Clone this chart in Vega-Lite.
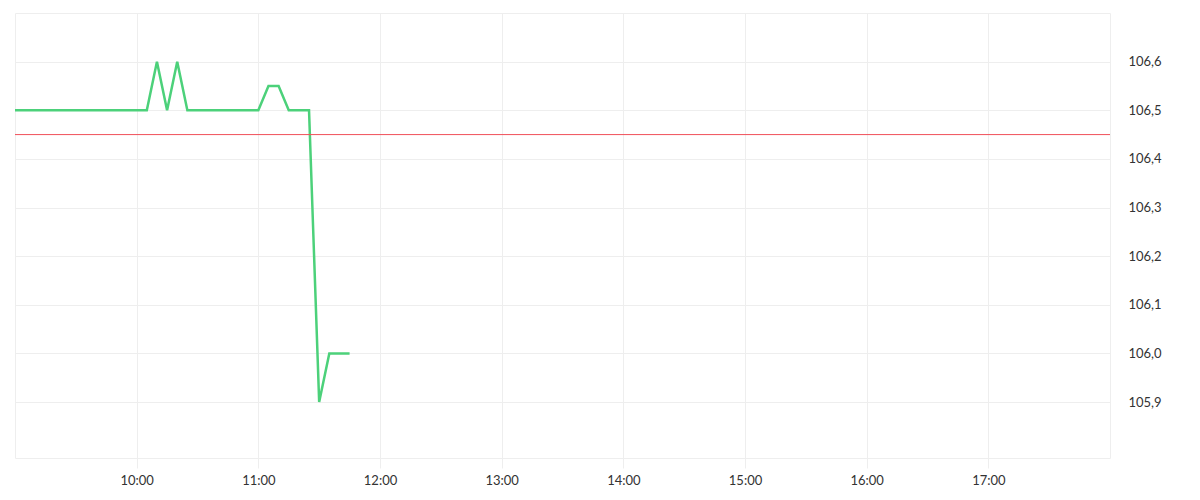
{
  "$schema": "https://vega.github.io/schema/vega-lite/v6.json",
  "autosize": "none",
  "width": 1095,
  "height": 445,
  "padding": {"left": 15, "top": 13, "right": 90, "bottom": 42},
  "background": "white",
  "datasets": {
    "prices": [
      {"time": "2024-01-02T09:00:00Z", "price": 106.5},
      {"time": "2024-01-02T09:05:00Z", "price": 106.5},
      {"time": "2024-01-02T09:10:00Z", "price": 106.5},
      {"time": "2024-01-02T09:15:00Z", "price": 106.5},
      {"time": "2024-01-02T09:20:00Z", "price": 106.5},
      {"time": "2024-01-02T09:25:00Z", "price": 106.5},
      {"time": "2024-01-02T09:30:00Z", "price": 106.5},
      {"time": "2024-01-02T09:35:00Z", "price": 106.5},
      {"time": "2024-01-02T09:40:00Z", "price": 106.5},
      {"time": "2024-01-02T09:45:00Z", "price": 106.5},
      {"time": "2024-01-02T09:50:00Z", "price": 106.5},
      {"time": "2024-01-02T09:55:00Z", "price": 106.5},
      {"time": "2024-01-02T10:00:00Z", "price": 106.5},
      {"time": "2024-01-02T10:05:00Z", "price": 106.5},
      {"time": "2024-01-02T10:10:00Z", "price": 106.6},
      {"time": "2024-01-02T10:15:00Z", "price": 106.5},
      {"time": "2024-01-02T10:20:00Z", "price": 106.6},
      {"time": "2024-01-02T10:25:00Z", "price": 106.5},
      {"time": "2024-01-02T10:30:00Z", "price": 106.5},
      {"time": "2024-01-02T10:35:00Z", "price": 106.5},
      {"time": "2024-01-02T10:40:00Z", "price": 106.5},
      {"time": "2024-01-02T10:45:00Z", "price": 106.5},
      {"time": "2024-01-02T10:50:00Z", "price": 106.5},
      {"time": "2024-01-02T10:55:00Z", "price": 106.5},
      {"time": "2024-01-02T11:00:00Z", "price": 106.5},
      {"time": "2024-01-02T11:05:00Z", "price": 106.55},
      {"time": "2024-01-02T11:10:00Z", "price": 106.55},
      {"time": "2024-01-02T11:15:00Z", "price": 106.5},
      {"time": "2024-01-02T11:20:00Z", "price": 106.5},
      {"time": "2024-01-02T11:25:00Z", "price": 106.5},
      {"time": "2024-01-02T11:30:00Z", "price": 105.9},
      {"time": "2024-01-02T11:35:00Z", "price": 106.0},
      {"time": "2024-01-02T11:40:00Z", "price": 106.0},
      {"time": "2024-01-02T11:45:00Z", "price": 106.0}
    ],
    "reference": [
      {"level": 106.45}
    ]
  },
  "layer": [
    {
      "data": {"name": "prices"},
      "mark": {"type": "line", "color": "#4cd17a", "strokeWidth": 2.5, "clip": true},
      "encoding": {
        "x": {
          "field": "time",
          "type": "temporal",
          "scale": {"type": "utc", "domain": ["2024-01-02T09:00:00Z", "2024-01-02T18:00:00Z"]},
          "axis": {
            "title": null,
            "values": [
              "2024-01-02T10:00:00Z", "2024-01-02T11:00:00Z", "2024-01-02T12:00:00Z",
              "2024-01-02T13:00:00Z", "2024-01-02T14:00:00Z", "2024-01-02T15:00:00Z",
              "2024-01-02T16:00:00Z", "2024-01-02T17:00:00Z"
            ],
            "labelExpr": "utcFormat(datum.value, '%H:%M')",
            "domain": false,
            "tickColor": "#eeeeee",
            "tickSize": 10,
            "gridColor": "#eeeeee",
            "labelPadding": 6
          }
        },
        "y": {
          "field": "price",
          "type": "quantitative",
          "scale": {"domain": [105.785, 106.7], "nice": false, "zero": false},
          "axis": {
            "title": null,
            "orient": "right",
            "values": [105.9, 106.0, 106.1, 106.2, 106.3, 106.4, 106.5, 106.6],
            "labelExpr": "replace(format(datum.value, '.1f'), '.', ',')",
            "domain": false,
            "ticks": false,
            "gridColor": "#eeeeee",
            "labelPadding": 18
          }
        }
      }
    },
    {
      "data": {"name": "reference"},
      "mark": {"type": "rule", "color": "#f0505a", "strokeWidth": 1},
      "encoding": {
        "y": {"field": "level", "type": "quantitative"}
      }
    }
  ],
  "config": {
    "view": {"stroke": "#eeeeee"},
    "axis": {
      "labelFont": "Lato",
      "labelFontSize": 13,
      "labelColor": "#333333"
    }
  }
}
